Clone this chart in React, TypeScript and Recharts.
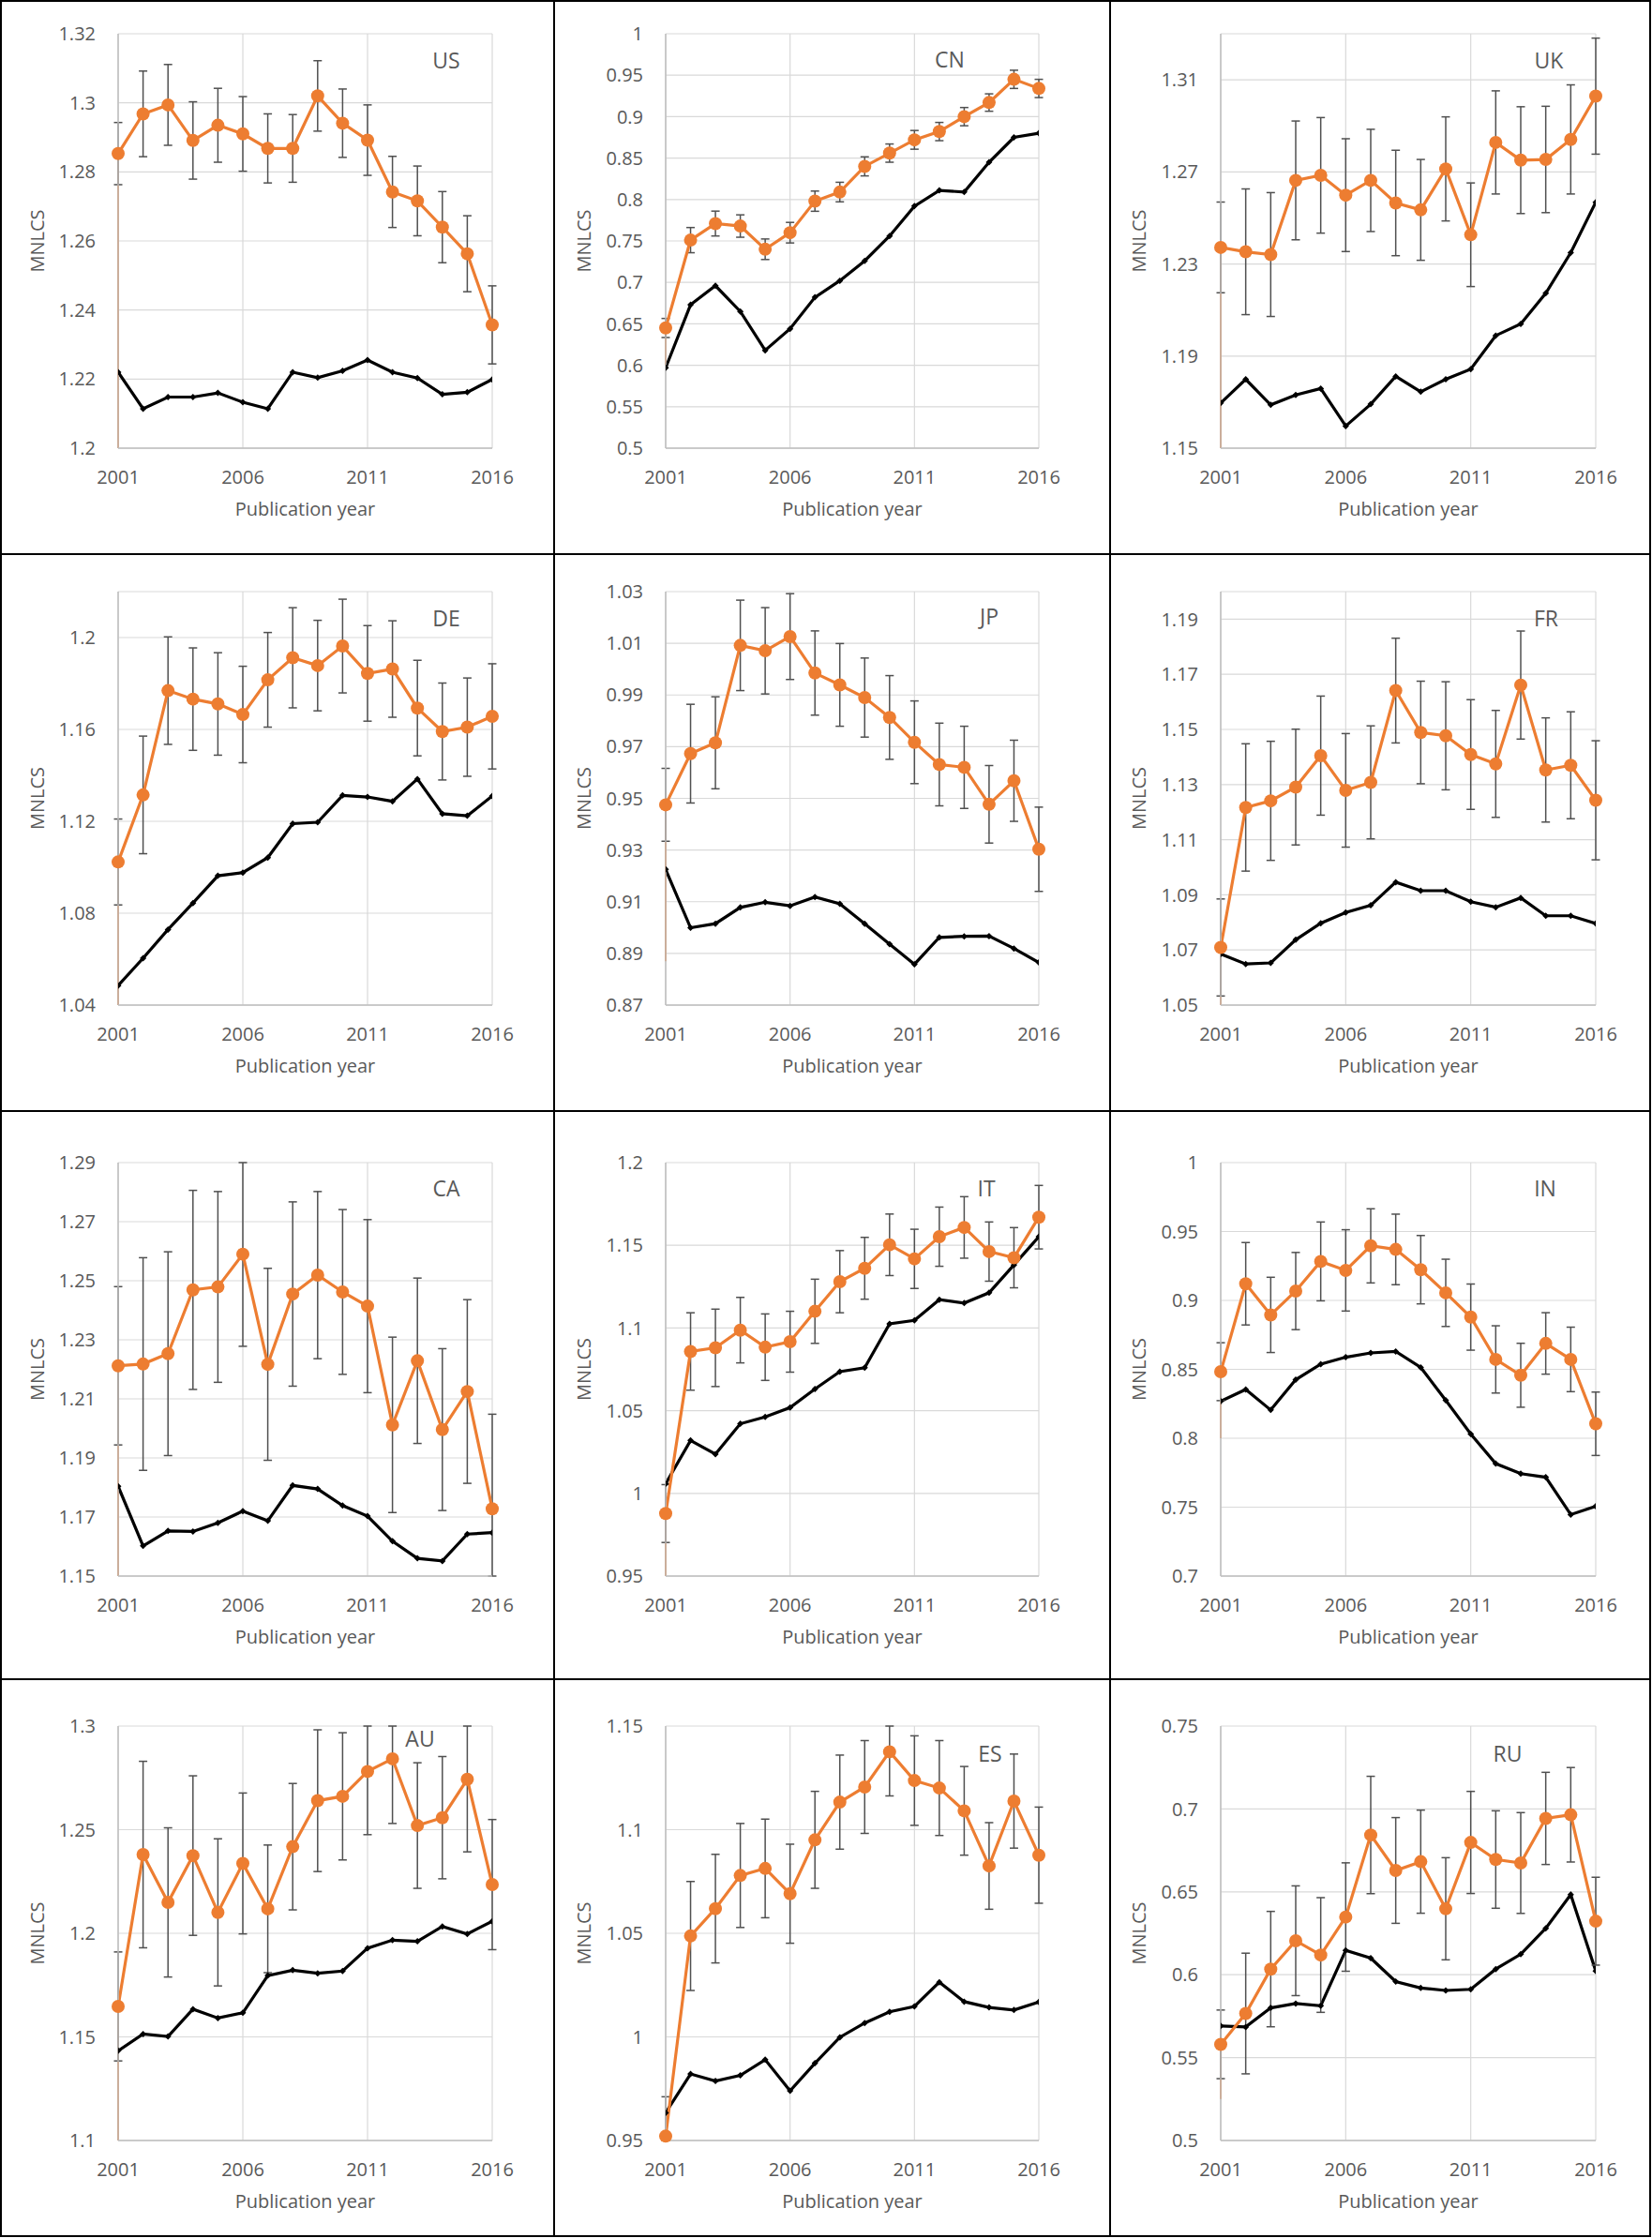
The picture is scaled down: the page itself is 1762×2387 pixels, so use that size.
import React from 'react';
import { LineChart, Line, XAxis, YAxis, CartesianGrid, ErrorBar, ReferenceLine } from 'recharts';

const ORANGE = '#ED7D31';
const TEXT = '#595959';

const YEARS = [2001, 2002, 2003, 2004, 2005, 2006, 2007, 2008, 2009, 2010, 2011, 2012, 2013, 2014, 2015, 2016];
const YEAR_TICKS = [2001, 2006, 2011, 2016];

const usOrange = [1.2853, 1.2968, 1.2994, 1.2891, 1.2935, 1.291, 1.2868, 1.2868, 1.302, 1.2941, 1.2892, 1.2742, 1.2716, 1.264, 1.2563, 1.2357];
const usErr = [0.009, 0.0124, 0.0117, 0.0112, 0.0107, 0.0108, 0.01, 0.0098, 0.0102, 0.0099, 0.0102, 0.0103, 0.0101, 0.0103, 0.011, 0.0113];
const usBlack = [1.222, 1.2114, 1.2148, 1.2148, 1.216, 1.2133, 1.2114, 1.222, 1.2204, 1.2224, 1.2255, 1.222, 1.2203, 1.2156, 1.2162, 1.2199];
const usTicks = [1.2, 1.22, 1.24, 1.26, 1.28, 1.3, 1.32];

const cnOrange = [0.645, 0.751, 0.771, 0.768, 0.74, 0.76, 0.798, 0.809, 0.84, 0.856, 0.872, 0.882, 0.9, 0.917, 0.945, 0.934];
const cnErr = [0.0115, 0.0152, 0.015, 0.0135, 0.0124, 0.0124, 0.0122, 0.0118, 0.0115, 0.011, 0.0113, 0.011, 0.011, 0.0105, 0.011, 0.011];
const cnBlack = [0.597, 0.673, 0.696, 0.665, 0.618, 0.644, 0.682, 0.702, 0.726, 0.756, 0.792, 0.811, 0.809, 0.845, 0.875, 0.88];
const cnTicks = [0.5, 0.55, 0.6, 0.65, 0.7, 0.75, 0.8, 0.85, 0.9, 0.95, 1];

const ukOrange = [1.2372, 1.2353, 1.2341, 1.2663, 1.2685, 1.2599, 1.2663, 1.2565, 1.2535, 1.2713, 1.2427, 1.2828, 1.2751, 1.2754, 1.2841, 1.3029];
const ukErr = [0.0197, 0.0273, 0.0269, 0.0258, 0.0251, 0.0245, 0.0222, 0.0229, 0.0219, 0.0226, 0.0225, 0.0224, 0.0232, 0.0231, 0.0237, 0.0252];
const ukBlack = [1.1696, 1.1799, 1.1688, 1.1731, 1.1759, 1.1596, 1.1691, 1.1812, 1.1745, 1.1799, 1.1843, 1.1989, 1.204, 1.2173, 1.2349, 1.2568];
const ukTicks = [1.15, 1.19, 1.23, 1.27, 1.31];

const deOrange = [1.1023, 1.1315, 1.1769, 1.1732, 1.1711, 1.1665, 1.1816, 1.1912, 1.1878, 1.1963, 1.1844, 1.1863, 1.1693, 1.1591, 1.161, 1.1657];
const deErr = [0.0187, 0.0256, 0.0234, 0.0223, 0.0223, 0.021, 0.0206, 0.0218, 0.0197, 0.0204, 0.0208, 0.021, 0.0208, 0.0211, 0.0214, 0.0229];
const deBlack = [1.0485, 1.0604, 1.0729, 1.0844, 1.0963, 1.0977, 1.1042, 1.119, 1.1196, 1.1313, 1.1306, 1.1287, 1.1384, 1.1233, 1.1224, 1.131];
const deTicks = [1.04, 1.08, 1.12, 1.16, 1.2];

const jpOrange = [0.9475, 0.9673, 0.9715, 1.0092, 1.0071, 1.0126, 0.9985, 0.9939, 0.989, 0.9813, 0.9717, 0.9631, 0.962, 0.9477, 0.9568, 0.9303];
const jpErr = [0.0141, 0.0191, 0.0178, 0.0175, 0.0167, 0.0166, 0.0163, 0.016, 0.0153, 0.0162, 0.016, 0.016, 0.0159, 0.015, 0.0157, 0.0163];
const jpBlack = [0.9225, 0.8999, 0.9015, 0.9078, 0.9098, 0.9084, 0.9118, 0.9092, 0.9015, 0.8936, 0.8858, 0.8962, 0.8966, 0.8967, 0.8919, 0.8865];
const jpTicks = [0.87, 0.89, 0.91, 0.93, 0.95, 0.97, 0.99, 1.01, 1.03];

const frOrange = [1.0709, 1.1217, 1.1241, 1.1291, 1.1405, 1.1279, 1.1308, 1.1641, 1.1489, 1.1477, 1.1409, 1.1375, 1.1661, 1.1353, 1.137, 1.1243];
const frErr = [0.0176, 0.0231, 0.0216, 0.021, 0.0216, 0.0206, 0.0205, 0.019, 0.0186, 0.0196, 0.0199, 0.0194, 0.0196, 0.0189, 0.0194, 0.0216];
const frBlack = [1.0685, 1.0649, 1.0653, 1.0737, 1.0797, 1.0836, 1.0862, 1.0946, 1.0915, 1.0915, 1.0875, 1.0855, 1.0889, 1.0824, 1.0824, 1.0796];
const frTicks = [1.05, 1.07, 1.09, 1.11, 1.13, 1.15, 1.17, 1.19];

const caOrange = [1.2212, 1.2218, 1.2253, 1.2469, 1.2479, 1.259, 1.2217, 1.2455, 1.2519, 1.2462, 1.2414, 1.2012, 1.2229, 1.1996, 1.2125, 1.1728];
const caErr = [0.0268, 0.036, 0.0345, 0.0337, 0.0323, 0.0312, 0.0325, 0.0312, 0.0283, 0.0279, 0.0293, 0.0297, 0.028, 0.0274, 0.0311, 0.032];
const caBlack = [1.1804, 1.1602, 1.1653, 1.1651, 1.168, 1.172, 1.1687, 1.1807, 1.1795, 1.1739, 1.1703, 1.1618, 1.156, 1.1551, 1.1642, 1.1647];
const caTicks = [1.15, 1.17, 1.19, 1.21, 1.23, 1.25, 1.27, 1.29];

const itOrange = [0.9878, 1.0858, 1.088, 1.0987, 1.0884, 1.0917, 1.1101, 1.128, 1.1361, 1.1503, 1.1418, 1.1552, 1.1608, 1.1462, 1.1425, 1.167];
const itErr = [0.0175, 0.0234, 0.0234, 0.0198, 0.0201, 0.0184, 0.0194, 0.0188, 0.0187, 0.0186, 0.0179, 0.0179, 0.0186, 0.0179, 0.0182, 0.0192];
const itBlack = [1.0058, 1.032, 1.0237, 1.0421, 1.0462, 1.0519, 1.0631, 1.0736, 1.076, 1.1025, 1.1046, 1.1171, 1.1151, 1.1213, 1.1381, 1.1552];
const itTicks = [0.95, 1, 1.05, 1.1, 1.15, 1.2];

const inOrange = [0.8483, 0.9121, 0.8895, 0.9068, 0.9283, 0.9218, 0.9396, 0.937, 0.9223, 0.9055, 0.8879, 0.8572, 0.8457, 0.8688, 0.8572, 0.8105];
const inErr = [0.021, 0.0299, 0.0273, 0.028, 0.0286, 0.0295, 0.0269, 0.0256, 0.0248, 0.0244, 0.024, 0.0244, 0.0232, 0.0223, 0.0234, 0.023];
const inBlack = [0.8268, 0.8354, 0.8205, 0.8425, 0.8538, 0.8588, 0.8619, 0.863, 0.8514, 0.8276, 0.8031, 0.7816, 0.7743, 0.7717, 0.7446, 0.7507];
const inTicks = [0.7, 0.75, 0.8, 0.85, 0.9, 0.95, 1];

const auOrange = [1.1647, 1.238, 1.2149, 1.2375, 1.2101, 1.2337, 1.2118, 1.2418, 1.264, 1.2661, 1.2781, 1.2842, 1.252, 1.2558, 1.2743, 1.2235];
const auErr = [0.0263, 0.045, 0.036, 0.0385, 0.0355, 0.034, 0.0308, 0.0305, 0.0342, 0.0307, 0.0305, 0.0312, 0.0303, 0.0295, 0.035, 0.0314];
const auBlack = [1.1433, 1.1514, 1.1502, 1.1634, 1.1591, 1.1616, 1.1796, 1.1822, 1.1807, 1.1818, 1.1928, 1.1967, 1.1961, 1.2033, 1.1997, 1.2058];
const auTicks = [1.1, 1.15, 1.2, 1.25, 1.3];

const esOrange = [0.9521, 1.0487, 1.0619, 1.0779, 1.0813, 1.0691, 1.0951, 1.1133, 1.1206, 1.1376, 1.1237, 1.1201, 1.1091, 1.0825, 1.1138, 1.0877];
const esErr = [0.019, 0.0263, 0.0262, 0.0251, 0.0238, 0.0239, 0.0234, 0.0227, 0.0224, 0.0213, 0.0216, 0.0229, 0.0214, 0.0209, 0.0227, 0.0232];
const esBlack = [0.9634, 0.9821, 0.9787, 0.9814, 0.989, 0.974, 0.9873, 0.9998, 1.0067, 1.0121, 1.0147, 1.0264, 1.017, 1.0142, 1.013, 1.0168];
const esTicks = [0.95, 1, 1.05, 1.1, 1.15];

const ruOrange = [0.558, 0.5766, 0.6034, 0.6205, 0.6119, 0.6348, 0.6843, 0.6629, 0.6682, 0.6398, 0.6798, 0.6695, 0.6674, 0.6943, 0.6965, 0.6323];
const ruErr = [0.0207, 0.0364, 0.0348, 0.0331, 0.0346, 0.0327, 0.0354, 0.0319, 0.0311, 0.0308, 0.0308, 0.0294, 0.0304, 0.0278, 0.0285, 0.0265];
const ruBlack = [0.5691, 0.5685, 0.58, 0.5826, 0.5813, 0.6147, 0.61, 0.5959, 0.592, 0.5905, 0.5912, 0.6034, 0.6124, 0.628, 0.6483, 0.6023];
const ruTicks = [0.5, 0.55, 0.6, 0.65, 0.7, 0.75];

// grid of the figure
const COL_X = [0, 591, 1184];
const COL_W = [591, 593, 576];
const ROW_Y = [0, 591, 1185, 1791];
const ROW_H = [591, 594, 606, 594];
const PLOT_X = [[126, 525], [119, 517], [118, 518]];
const PLOT_Y = [[36, 478], [40, 481], [55, 496], [50, 492]];
const YLABEL_X = [40, 32, 31];
const X_AXIS_H = 90;

const panels = [
  { code: 'US', orange: usOrange, err: usErr, black: usBlack, ticks: usTicks, domain: [1.2, 1.32], stem: 1.2, label: [476, 64] },
  { code: 'CN', orange: cnOrange, err: cnErr, black: cnBlack, ticks: cnTicks, domain: [0.5, 1], stem: 0.6, label: [422, 63] },
  { code: 'UK', orange: ukOrange, err: ukErr, black: ukBlack, ticks: ukTicks, domain: [1.15, 1.33], stem: 1.15, label: [468, 64] },
  { code: 'DE', orange: deOrange, err: deErr, black: deBlack, ticks: deTicks, domain: [1.04, 1.22], stem: 1.04, label: [476, 68] },
  { code: 'JP', orange: jpOrange, err: jpErr, black: jpBlack, ticks: jpTicks, domain: [0.87, 1.03], stem: 0.887, label: [464, 66] },
  { code: 'FR', orange: frOrange, err: frErr, black: frBlack, ticks: frTicks, domain: [1.05, 1.2], stem: 1.05, label: [465, 68] },
  { code: 'CA', orange: caOrange, err: caErr, black: caBlack, ticks: caTicks, domain: [1.15, 1.29], stem: 1.15, label: [476, 82] },
  { code: 'IT', orange: itOrange, err: itErr, black: itBlack, ticks: itTicks, domain: [0.95, 1.2], stem: 0.95, label: [461, 82] },
  { code: 'IN', orange: inOrange, err: inErr, black: inBlack, ticks: inTicks, domain: [0.7, 1], stem: 0.8, label: [464, 82] },
  { code: 'AU', orange: auOrange, err: auErr, black: auBlack, ticks: auTicks, domain: [1.1, 1.3], stem: 1.1, label: [448, 63] },
  { code: 'ES', orange: esOrange, err: esErr, black: esBlack, ticks: esTicks, domain: [0.95, 1.15], stem: 0.95, label: [465, 79] },
  { code: 'RU', orange: ruOrange, err: ruErr, black: ruBlack, ticks: ruTicks, domain: [0.5, 0.75], stem: 0.525, label: [424, 79] },
];

const diamond = (props: any) => {
  const { cx, cy, index } = props;
  if (cx == null || cy == null) return <g key={`dm-${index}`} />;
  const s = 3.5;
  return <path key={`dm-${index}`} d={`M${cx},${cy - s}L${cx + s},${cy}L${cx},${cy + s}L${cx - s},${cy}Z`} fill="#000" />;
};

function Panel({ p, i }: { p: any; i: number }) {
  const col = i % 3;
  const row = Math.floor(i / 3);
  const w = COL_W[col];
  const h = ROW_H[row];
  const [pl, pr] = PLOT_X[col];
  const [pt, pb] = PLOT_Y[row];
  const [lo, hi] = p.domain;
  // error bars are cut off at the plot edges, like in the original
  const rows = YEARS.map((year, k) => {
    const v = p.orange[k];
    const e = p.err[k];
    return {
      year,
      orange: v,
      err: [Math.max(0, Math.min(e, v - lo)), Math.max(0, Math.min(e, hi - v))],
      black: p.black[k],
    };
  });

  return (
    <div style={{ position: 'absolute', left: COL_X[col], top: ROW_Y[row], width: w, height: h }}>
      <LineChart
        width={w}
        height={h}
        data={rows}
        margin={{ top: pt, right: w - pr, bottom: h - pb - X_AXIS_H, left: 0 }}
      >
        <CartesianGrid stroke="#D9D9D9" strokeWidth={1.2} />
        <XAxis
          type="number"
          dataKey="year"
          domain={[2001, 2016]}
          ticks={YEAR_TICKS}
          interval={0}
          allowDataOverflow
          height={X_AXIS_H}
          tickLine={false}
          tickSize={0}
          tickMargin={24}
          axisLine={{ stroke: '#BFBFBF', strokeWidth: 1.5 }}
          tick={{ fontSize: 20, fill: TEXT }}
          label={{ value: 'Publication year', position: 'insideBottom', offset: 18, fontSize: 20, fill: TEXT }}
        />
        <YAxis
          type="number"
          domain={p.domain}
          ticks={p.ticks}
          interval={0}
          allowDataOverflow
          width={pl}
          tickLine={false}
          tickSize={0}
          tickMargin={24}
          axisLine={{ stroke: '#BFBFBF', strokeWidth: 1.5 }}
          tick={{ fontSize: 20, fill: TEXT }}
          label={{
            value: 'MNLCS',
            angle: -90,
            position: 'insideLeft',
            offset: YLABEL_X[col],
            fontSize: 20,
            fill: TEXT,
            style: { textAnchor: 'middle' },
          }}
        />
        <ReferenceLine
          segment={[{ x: 2001, y: p.stem }, { x: 2001, y: p.orange[0] }]}
          stroke={ORANGE}
          strokeWidth={2}
        />
        <Line
          dataKey="black"
          stroke="#000"
          strokeWidth={3.2}
          dot={diamond}
          activeDot={false}
          isAnimationActive={false}
        />
        <Line
          dataKey="orange"
          stroke={ORANGE}
          strokeWidth={3.2}
          dot={{ r: 7, fill: ORANGE, stroke: ORANGE, strokeWidth: 0, clipDot: false }}
          activeDot={false}
          isAnimationActive={false}
        >
          <ErrorBar dataKey="err" direction="y" width={4.5} stroke="#505050" strokeWidth={1.5} isAnimationActive={false} />
        </Line>
      </LineChart>
      <div
        style={{
          position: 'absolute',
          left: p.label[0],
          top: p.label[1],
          transform: 'translate(-50%, -50%)',
          fontSize: 23,
          lineHeight: 1,
          color: TEXT,
          whiteSpace: 'nowrap',
        }}
      >
        {p.code}
      </div>
    </div>
  );
}

const V_LINES = [0, 590, 1183, 1759];
const H_LINES = [0, 590, 1184, 1790, 2384];

export default function App() {
  return (
    <div
      style={{
        position: 'absolute',
        left: 0,
        top: 0,
        width: 1762,
        height: 2387,
        background: '#fff',
        fontFamily: '"Open Sans", sans-serif',
        overflow: 'hidden',
      }}
    >
      {panels.map((p, i) => (
        <Panel key={p.code} p={p} i={i} />
      ))}
      {V_LINES.map((x) => (
        <div key={`v${x}`} style={{ position: 'absolute', left: x, top: 0, width: 2, height: 2386, background: '#000' }} />
      ))}
      {H_LINES.map((y) => (
        <div key={`h${y}`} style={{ position: 'absolute', left: 0, top: y, width: 1761, height: 2, background: '#000' }} />
      ))}
    </div>
  );
}
